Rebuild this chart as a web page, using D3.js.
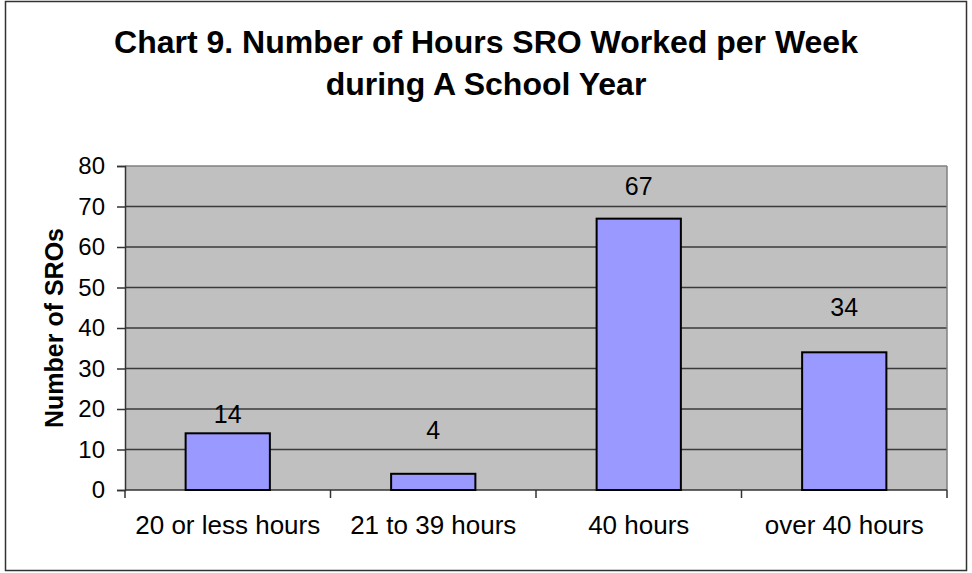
<!DOCTYPE html>
<html>
<head>
<meta charset="utf-8">
<script src="https://cdn.jsdelivr.net/npm/d3@7"></script>
<style>
  body { margin: 0; background: #fff; }
  text { font-family: Arial, "Liberation Sans", sans-serif; }
</style>
</head>
<body>
<div class="chart"></div>
<script>
// Chart 9 data
var categories = ["20 or less hours", "21 to 39 hours", "40 hours", "over 40 hours"];
var sroCounts = [14, 4, 67, 34];
var yTicks = [0, 10, 20, 30, 40, 50, 60, 70, 80];
var titleLines = ["Chart 9. Number of Hours SRO Worked per Week", "during A School Year"];

// value labels sit at slightly different heights in the original
var labelLift = [10, 35, 24, 36];

var svgWidth = 972;
var svgHeight = 573;

var margin = { top: 166, bottom: 83, left: 125, right: 25 };
var width = 947 - margin.left;
var height = 490 - margin.top;

var svg = d3.select(".chart")
  .append("svg")
  .attr("width", svgWidth)
  .attr("height", svgHeight);

// outer chart border
svg.append("rect")
  .attr("x", 5.5)
  .attr("y", 1.5)
  .attr("width", 961)
  .attr("height", 569)
  .attr("fill", "#fff")
  .attr("stroke", "#333")
  .attr("stroke-width", 1.5);

// title
svg.append("g").selectAll("text")
  .data(titleLines)
  .enter()
  .append("text")
  .attr("x", 486)
  .attr("y", (d, i) => 53 + i * 42)
  .attr("text-anchor", "middle")
  .attr("font-size", "32px")
  .attr("font-weight", "bold")
  .attr("fill", "#000")
  .text(d => d);

var chartGroup = svg.append("g")
  .attr("transform", `translate(${margin.left}, ${margin.top})`);

var xScale = d3.scaleBand()
  .domain(categories)
  .range([0, width])
  .paddingInner(0.59)
  .paddingOuter(0.295);

var xBand = d3.scaleBand()
  .domain(categories)
  .range([0, width]);

var yScale = d3.scaleLinear()
  .domain([0, 80])
  .range([height, 0]);

// plot area
chartGroup.append("rect")
  .attr("width", width)
  .attr("height", height)
  .attr("fill", "#c0c0c0");

// gridlines
chartGroup.append("g")
  .selectAll("line")
  .data(yTicks.filter(d => d > 0))
  .enter()
  .append("line")
  .attr("x1", 0)
  .attr("x2", width)
  .attr("y1", d => yScale(d))
  .attr("y2", d => yScale(d))
  .attr("stroke", d => d == 80 ? "#808080" : "#3a3a3a")
  .attr("stroke-width", 1.5);

// right border of plot area
chartGroup.append("line")
  .attr("x1", width).attr("x2", width)
  .attr("y1", 0).attr("y2", height)
  .attr("stroke", "#808080")
  .attr("stroke-width", 1.5);

// y axis
var yAxis = d3.axisLeft(yScale)
  .tickValues(yTicks)
  .tickSize(8)
  .tickPadding(12);

var yAxisG = chartGroup.append("g").call(yAxis);
yAxisG.select(".domain").attr("stroke", "#333").attr("stroke-width", 1.5);
yAxisG.selectAll(".tick line").attr("stroke", "#333").attr("stroke-width", 1.5);
yAxisG.selectAll(".tick text")
  .attr("font-size", "24px")
  .attr("font-family", "Arial, 'Liberation Sans', sans-serif")
  .attr("fill", "#000");

// x axis: ticks between the categories
var xAxisG = chartGroup.append("g")
  .attr("transform", `translate(0, ${height})`);

xAxisG.append("line")
  .attr("x1", 0).attr("x2", width)
  .attr("stroke", "#333")
  .attr("stroke-width", 1.5);

xAxisG.selectAll(".xtick")
  .data(categories.concat(["end"]))
  .enter()
  .append("line")
  .attr("class", "xtick")
  .attr("x1", (d, i) => i * xBand.bandwidth())
  .attr("x2", (d, i) => i * xBand.bandwidth())
  .attr("y1", 0)
  .attr("y2", 8)
  .attr("stroke", "#333")
  .attr("stroke-width", 1.5);

xAxisG.selectAll(".xlabel")
  .data(categories)
  .enter()
  .append("text")
  .attr("class", "xlabel")
  .attr("x", d => xBand(d) + xBand.bandwidth() / 2)
  .attr("y", 44)
  .attr("text-anchor", "middle")
  .attr("font-size", "26px")
  .attr("fill", "#000")
  .text(d => d);

// bars
chartGroup.selectAll(".bar")
  .data(sroCounts)
  .enter()
  .append("rect")
  .attr("class", "bar")
  .attr("x", (d, i) => xScale(categories[i]))
  .attr("y", d => yScale(d))
  .attr("width", xScale.bandwidth())
  .attr("height", d => height - yScale(d))
  .attr("fill", "#9999ff")
  .attr("stroke", "#000")
  .attr("stroke-width", 2);

// value labels
chartGroup.selectAll(".vlabel")
  .data(sroCounts)
  .enter()
  .append("text")
  .attr("class", "vlabel")
  .attr("x", (d, i) => xScale(categories[i]) + xScale.bandwidth() / 2)
  .attr("y", (d, i) => yScale(d) - labelLift[i])
  .attr("text-anchor", "middle")
  .attr("font-size", "25px")
  .attr("fill", "#000")
  .text(d => d);

// y axis title
svg.append("text")
  .attr("transform", "translate(63, 328) rotate(-90)")
  .attr("text-anchor", "middle")
  .attr("font-size", "25px")
  .attr("font-weight", "bold")
  .attr("fill", "#000")
  .text("Number of SROs");
</script>
</body>
</html>
